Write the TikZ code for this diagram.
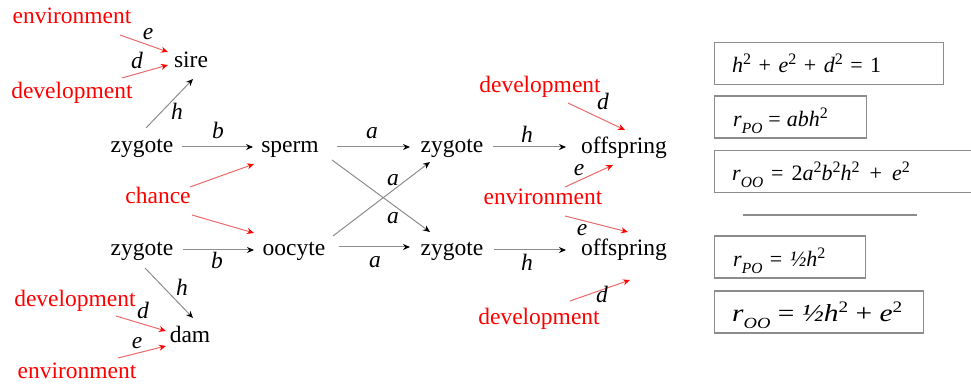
\documentclass[tikz,border=0pt]{standalone}
\usepackage{fontspec}
\usepackage{graphicx}
\setmainfont{Liberation Serif}
\usetikzlibrary{arrows.meta}
\definecolor{lred}{HTML}{E86A6A}
\definecolor{lgray}{HTML}{8C8C8C}
\newcommand{\supr}[1]{\raisebox{0.38em}{\fontsize{16}{16}\selectfont #1}}
\newcommand{\subr}[1]{\raisebox{-0.3em}{\fontsize{15.5}{16}\selectfont\itshape #1}}
\newcommand{\opg}[2]{\hspace{#2}#1\hspace{#2}}
\begin{document}
\begin{tikzpicture}[x=1pt,y=-1pt,
  word/.style={inner sep=0pt,text height=16pt,text depth=5pt,font=\fontsize{23.5}{26}\selectfont},
  rword/.style={word,text=red},
  lab/.style={word,font=\fontsize{23.5}{26}\selectfont\itshape},
  barr/.style={draw=lgray,line width=1pt,-{Stealth[black,length=7pt,width=6pt]}},
  rarr/.style={draw=lred,line width=1pt,-{Stealth[red,length=7pt,width=6pt]}},
  eqbox/.style={draw=lgray,line width=1.2pt,anchor=west,minimum height=42pt,inner sep=0pt},
  eqtext/.style={anchor=base west,inner sep=0pt,font=\fontsize{22}{24}\selectfont}
]
\useasboundingbox (0,0) rectangle (971,387);
% left part
\node[rword] (env1) at (72,18) {environment};
\node[word] (sire) at (191,62) {sire};
\node[rword] (dev1) at (72,93) {development};
\node[word] (zygA) at (142,147) {zygote};
\node[word] (sperm) at (290,147) {sperm};
\node[rword] (chance) at (158,198) {chance};
\node[word] (zygB) at (142,250) {zygote};
\node[word] (oocyte) at (294,250) {oocyte};
\node[word] (dam) at (190,337) {dam};
\node[rword] (dev2) at (75,301) {development};
\node[rword] (env2) at (77,373) {environment};
% middle
\node[word] (zyg1) at (452,147) {zygote};
\node[word] (zyg2) at (452,250) {zygote};
% right
\node[word] (off1) at (624,148) {offspring};
\node[word] (off2) at (624,250) {offspring};
\node[rword] (dev3) at (540,87) {development};
\node[rword] (env3) at (543,199) {environment};
\node[rword] (dev4) at (539,319) {development};

% arrows
\draw[rarr] ([shift={(48,17)}]env1.center) -- ([shift={(-23,-10)}]sire.center);
\draw[rarr] ([shift={(50,-15)}]dev1.center) -- ([shift={(-23,3)}]sire.center);
\draw[barr] ([shift={(4,-19)}]zygA.center) -- ([shift={(2,17)}]sire.center);
\draw[barr] ([shift={(40,0)}]zygA.center) -- ([shift={(-37,0)}]sperm.center);
\draw[rarr] ([shift={(32,-11)}]chance.center) -- ([shift={(-36,17)}]sperm.center);
\draw[rarr] ([shift={(34,17)}]chance.center) -- ([shift={(-40,-17)}]oocyte.center);
\draw[barr] ([shift={(41,0)}]zygB.center) -- ([shift={(-40,0)}]oocyte.center);
\draw[barr] ([shift={(3,18)}]zygB.center) -- ([shift={(3,-19)}]dam.center);
\draw[rarr] ([shift={(41,15)}]dev2.center) -- ([shift={(-24,-6)}]dam.center);
\draw[rarr] ([shift={(41,-15)}]env2.center) -- ([shift={(-24,9)}]dam.center);
\draw[barr] ([shift={(47,0)}]sperm.center) -- ([shift={(-42,0)}]zyg1.center);
\draw[barr] ([shift={(42,13)}]sperm.center) -- ([shift={(-22,-18)}]zyg2.center);
\draw[barr] ([shift={(39,-14)}]oocyte.center) -- ([shift={(-22,15)}]zyg1.center);
\draw[barr] ([shift={(45,-3)}]oocyte.center) -- ([shift={(-42,-3)}]zyg2.center);
\draw[barr] ([shift={(41,0)}]zyg1.center) -- ([shift={(-58,-1)}]off1.center);
\draw[barr] ([shift={(42,0)}]zyg2.center) -- ([shift={(-58,0)}]off2.center);
\draw[rarr] ([shift={(28,16)}]dev3.center) -- ([shift={(1,-18)}]off1.center);
\draw[rarr] ([shift={(22,-12)}]env3.center) -- ([shift={(-11,17)}]off1.center);
\draw[rarr] ([shift={(22,17)}]env3.center) -- ([shift={(4,-18)}]off2.center);
\draw[rarr] ([shift={(31,-18)}]dev4.center) -- ([shift={(6,30)}]off2.center);

% path labels
\node[lab] (le1) at (148,34) {e};
\node[lab] (ld1) at (137,63) {d};
\node[lab] (lh1) at (177,114) {h};
\node[lab] (lb1) at (218,133) {b};
\node[lab] (lb2) at (217,263) {b};
\node[lab] (lh2) at (182,290) {h};
\node[lab] (ld2) at (143,313) {d};
\node[lab] (le2) at (137,343) {e};
\node[lab] (la1) at (372,133) {a};
\node[lab] (la2) at (393,180) {a};
\node[lab] (la3) at (393,218) {a};
\node[lab] (la4) at (375,262) {a};
\node[lab] (lh3) at (527,137) {h};
\node[lab] (lh4) at (527,265) {h};
\node[lab] (ld3) at (603,104) {d};
\node[lab] (le3) at (579,170) {e};
\node[lab] (le4) at (582,230) {e};
\node[lab] (ld4) at (602,297) {d};

% equation boxes
\node[eqbox,minimum width=229pt] (box1) at (714,63.5) {};
\node[eqbox,minimum width=152pt] (box2) at (714,117) {};
\node[eqbox,minimum width=265pt] (box3) at (714,171.5) {};
\node[eqbox,minimum width=151pt] (box4) at (714,257) {};
\node[eqbox,minimum width=209pt] (box5) at (714,312) {};
\draw[draw=lgray,line width=1.2pt] (743,215) -- (917,215);

\node[eqtext] (eq1) at ([shift={(18,9.5)}]box1.west) {\textit{h}\supr{2}\opg{+}{7.5pt}\textit{e}\supr{2}\opg{+}{7.5pt}\textit{d}\supr{2}\opg{=}{7.5pt}1};
\node[eqtext] (eq2) at ([shift={(19,9.5)}]box2.west) {\textit{r}\subr{PO}\opg{=}{6pt}\textit{abh}\supr{2}};
\node[eqtext] (eq3) at ([shift={(18,9.5)}]box3.west) {\textit{r}\subr{OO}\opg{=}{8pt}2\textit{a}\supr{2}\textit{b}\supr{2}\textit{h}\supr{2}\opg{+}{10pt}\textit{e}\supr{2}};
\node[eqtext] (eq4) at ([shift={(19,9.5)}]box4.west) {\textit{r}\subr{PO}\opg{=}{7.5pt}\textit{½h}\supr{2}};
\node[eqtext,font=\fontsize{24.5}{26}\selectfont] (eq5) at ([shift={(18,9.5)}]box5.west) {\scalebox{1.2}[1]{\textit{r}\subr{OO} = \textit{½h}\supr{2} + \textit{e}\supr{2}}};
\end{tikzpicture}
\end{document}
